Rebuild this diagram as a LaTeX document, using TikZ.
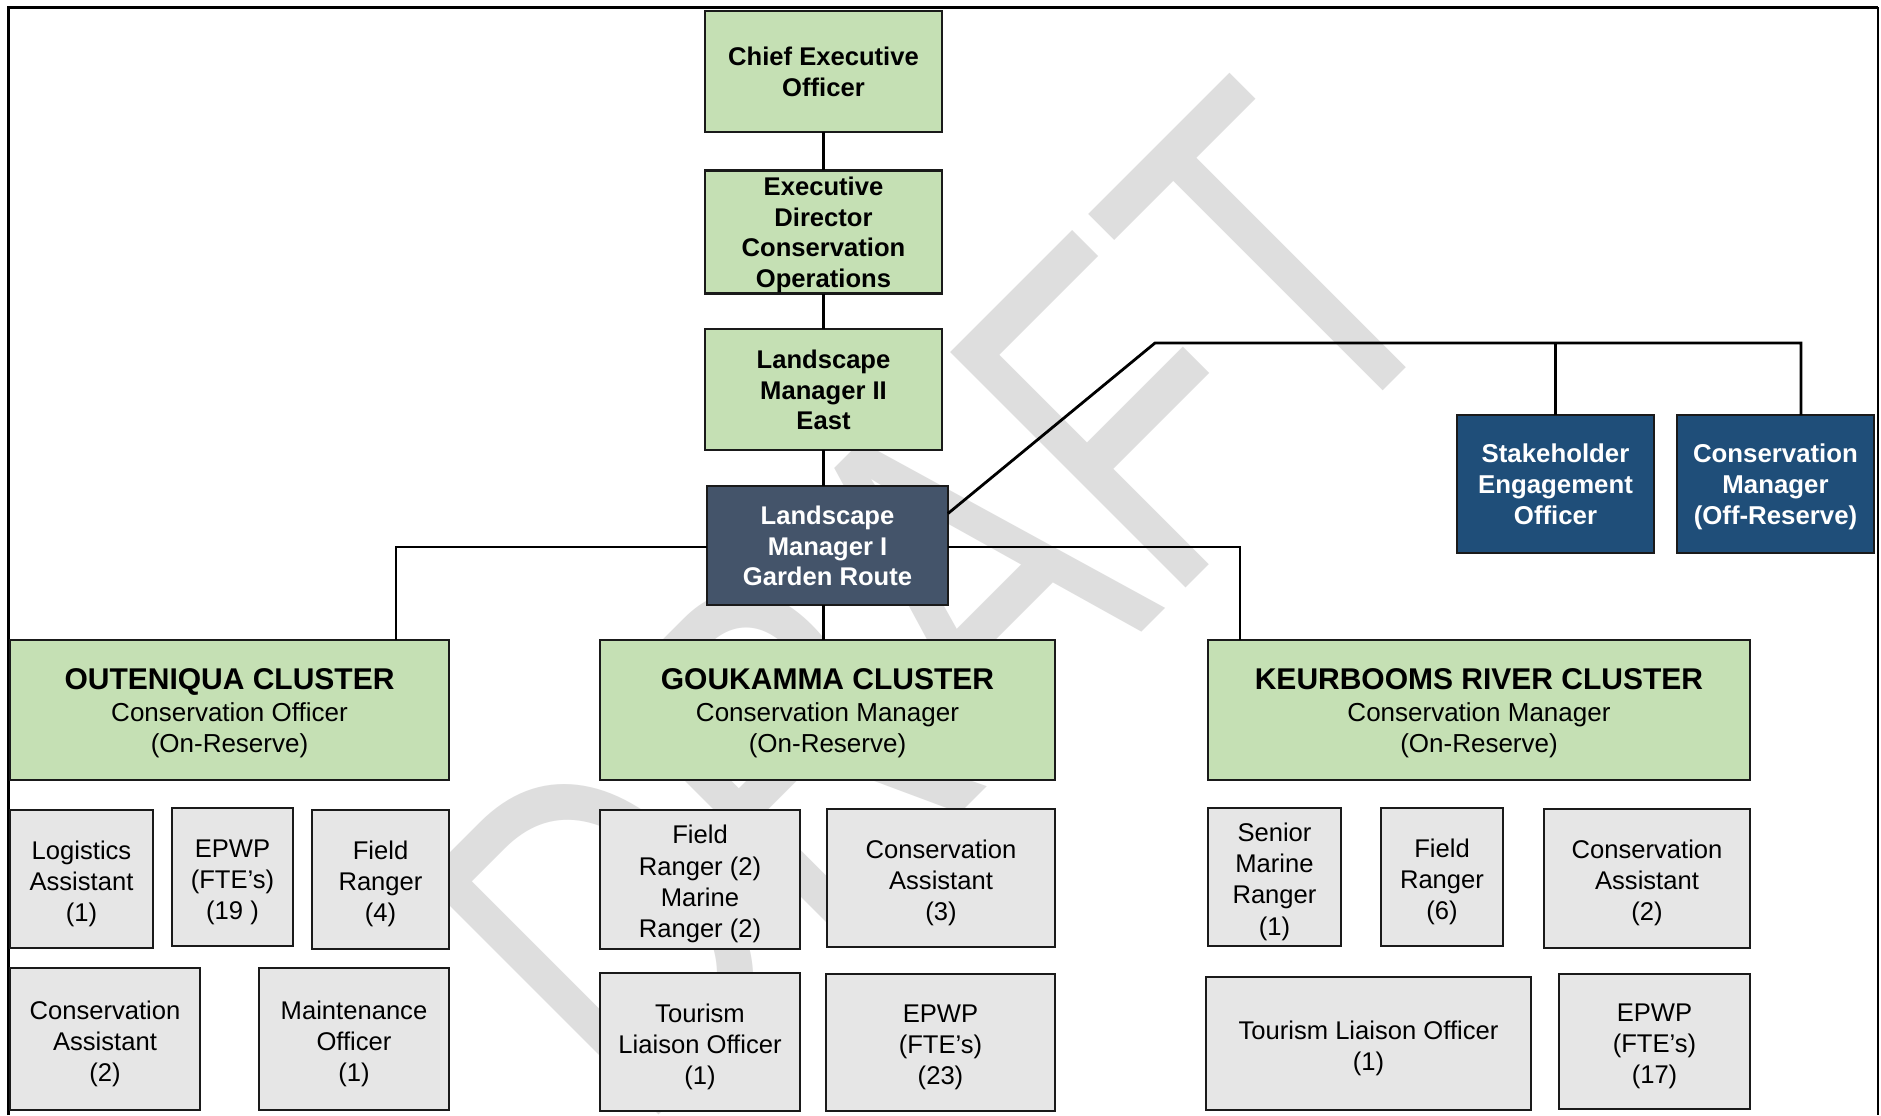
\documentclass[tikz,border=0pt]{standalone}
\usepackage{fontspec}
\usepackage{graphicx}
\setmainfont{Liberation Sans}
\definecolor{boxgreen}{HTML}{C5E0B4}
\definecolor{slate}{HTML}{44546A}
\definecolor{navy}{HTML}{1F4E79}
\definecolor{boxgray}{HTML}{E6E6E6}
\definecolor{wmgray}{HTML}{DEDEDE}
\definecolor{edgecol}{HTML}{1A1A1A}
\newcommand{\strH}{\rule{0pt}{12.5pt}}
\newcommand{\strS}{\rule{0pt}{14.2pt}}
\newcommand{\strB}{\rule[-3pt]{0pt}{3pt}}
\begin{document}
\begin{tikzpicture}[x=0.5pt,y=-0.5pt,
  base/.style={draw=edgecol, line width=1.2pt, align=center, inner sep=0pt, outer sep=0pt},
  topbox/.style={base, fill=boxgreen, font=\fontsize{12.8}{15.35}\selectfont\bfseries},
  lmbox/.style={base, fill=slate, text=white, font=\fontsize{12.8}{15.3}\selectfont\bfseries},
  bluebox/.style={base, fill=navy, text=white, font=\fontsize{12.9}{15.6}\selectfont\bfseries},
  clusterbox/.style={base, fill=boxgreen, font=\fontsize{13}{15.8}\selectfont},
  graybox/.style={base, fill=boxgray, font=\fontsize{12.8}{15.6}\selectfont},
  conn/.style={draw=black, line width=1.4pt},
  frameline/.style={draw=black, line width=1.5pt},
  thinframe/.style={draw=black, line width=0.8pt},
  wmark/.style={rotate=45, anchor=base west, inner sep=0pt, text=wmgray, font=\fontsize{242}{250}\selectfont}
]
\useasboundingbox (0,0) rectangle (1881,1115);
\fill[white] (0,0) rectangle (1881,1115);

% watermark (behind everything)
\begin{scope}
\clip (0,0) rectangle (1881,1115);
\node[wmark] (wm) at (638,1136) {\scalebox{0.73}[1]{DRAFT}};
\end{scope}

% frame
\draw[frameline] (8,1115) -- (8,7) -- (1878,7);
\draw[thinframe] (1878,7) -- (1878,1115);

% top chain
\node[topbox, minimum width=118.5pt, minimum height=60.5pt] (ceo) at (823.5,71.5) {\strH Chief Executive\\Officer\strB};
\node[topbox, minimum width=118.5pt, minimum height=60pt] (edco) at (823.5,232) {\strH Executive\\Director\\Conservation\\Operations\strB};
\node[topbox, minimum width=118.5pt, minimum height=60.5pt] (lm2) at (823.5,389.5) {\strH Landscape\\Manager II\\East\strB};
\node[lmbox, minimum width=120.5pt, minimum height=59.5pt] (lm1) at (827.5,545.5) {\strH Landscape\\Manager I\\Garden Route\strB};

% blue boxes
\node[bluebox, minimum width=98.5pt, minimum height=69pt] (seo) at (1555.5,484) {\strH Stakeholder\\Engagement\\Officer\strB};
\node[bluebox, minimum width=98.5pt, minimum height=69pt] (cmo) at (1775.5,484) {\strH Conservation\\Manager\\(Off-Reserve)\strB};

% clusters
\node[clusterbox, minimum width=219.5pt, minimum height=70pt] (out) at (229.5,710) {\strS{\fontsize{15}{15.8}\selectfont\bfseries OUTENIQUA CLUSTER}\\Conservation Officer\\(On-Reserve)\strB};
\node[clusterbox, minimum width=227.5pt, minimum height=70pt] (gou) at (827.5,710) {\strS{\fontsize{15}{15.8}\selectfont\bfseries GOUKAMMA CLUSTER}\\Conservation Manager\\(On-Reserve)\strB};
\node[clusterbox, minimum width=271pt, minimum height=70pt] (keu) at (1479,710) {\strS{\fontsize{15}{15.8}\selectfont\bfseries KEURBOOMS RIVER CLUSTER}\\Conservation Manager\\(On-Reserve)\strB};

% Outeniqua staff
\node[graybox, minimum width=71.5pt, minimum height=69pt] (o1) at (81.5,879) {\strS Logistics\\Assistant\\(1)\strB};
\node[graybox, minimum width=60.5pt, minimum height=69pt] (o2) at (232.5,877) {\strS EPWP\\(FTE’s)\\(19 )\strB};
\node[graybox, minimum width=68.5pt, minimum height=69.5pt] (o3) at (380.5,879.5) {\strS Field\\Ranger\\(4)\strB};
\node[graybox, minimum width=95pt, minimum height=71pt] (o4) at (105,1039) {\strS Conservation\\Assistant\\(2)\strB};
\node[graybox, minimum width=95pt, minimum height=71pt] (o5) at (354,1039) {\strS Maintenance\\Officer\\(1)\strB};

% Goukamma staff
\node[graybox, minimum width=100pt, minimum height=69.5pt] (g1) at (700,879.5) {\strS Field\\Ranger (2)\\Marine\\Ranger (2)\strB};
\node[graybox, minimum width=114pt, minimum height=69pt] (g2) at (941,878) {\strS Conservation\\Assistant\\(3)\strB};
\node[graybox, minimum width=100pt, minimum height=69pt] (g3) at (700,1042) {\strS Tourism\\Liaison Officer\\(1)\strB};
\node[graybox, minimum width=114.5pt, minimum height=68.5pt] (g4) at (940.5,1042.5) {\strS EPWP\\(FTE’s)\\(23)\strB};

% Keurbooms staff
\node[graybox, minimum width=66.5pt, minimum height=69pt] (k1) at (1274.5,877) {\strS Senior\\Marine\\Ranger\\(1)\strB};
\node[graybox, minimum width=61pt, minimum height=69pt] (k2) at (1442,877) {\strS Field\\Ranger\\(6)\strB};
\node[graybox, minimum width=103pt, minimum height=69.5pt] (k3) at (1647,878.5) {\strS Conservation\\Assistant\\(2)\strB};
\node[graybox, minimum width=162.5pt, minimum height=66.5pt] (k4) at (1368.5,1043.5) {\strS Tourism Liaison Officer\\(1)\strB};
\node[graybox, minimum width=95.5pt, minimum height=67.5pt] (k5) at (1654.5,1041.5) {\strS EPWP\\(FTE’s)\\(17)\strB};

% connectors
\coordinate (oj) at (396,640);
\coordinate (kj) at (1240,640);
\coordinate (d1) at (1155,343);
\coordinate (d2) at (1801,343);
\draw[conn] (ceo) -- (edco);
\draw[conn] (edco) -- (lm2);
\draw[conn] (lm2.south) -- (lm2.south |- lm1.north);
\draw[conn] (lm1.south -| lm2.south) -- (gou.north -| lm2.south);
\draw[conn] ([yshift=-0.75pt]lm1.west) -| (oj);
\draw[conn] ([yshift=-0.75pt]lm1.east) -| (kj);
\draw[conn] ([yshift=16pt]lm1.east) -- (d1) -- (d2) -- (d2 |- cmo.north);
\draw[conn] (seo.north) -- (seo.north |- d1);
\end{tikzpicture}
\end{document}
